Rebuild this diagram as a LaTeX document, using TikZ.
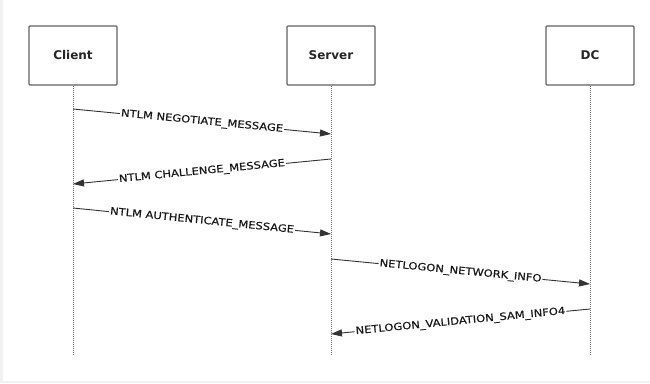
\documentclass[tikz,border=0pt]{standalone}
\usepackage{fontspec}
\setmainfont{DejaVu Sans}
\newfontfamily\msgfont[FakeStretch=1.15, FakeBold=0.4]{DejaVu Sans}
\usepackage{tikz}
\usetikzlibrary{arrows.meta, calc}

\begin{document}
\begin{tikzpicture}[x=1pt, y=-1pt, >={Triangle[length=11pt, width=7pt]},
  actor/.style={draw=black!62, line width=1.1pt, rounded corners=1pt,
    minimum width=88pt, minimum height=59pt, text=black!85,
    font=\bfseries\fontsize{12}{14}\selectfont},
  life/.style={draw=black!55, line width=0.9pt, dash pattern=on 1pt off 1pt},
  msg/.style={draw=black!80, line width=0.9pt, ->},
  lbl/.style={fill=white, inner sep=1pt, sloped, text=black!90,
    font=\msgfont\fontsize{10}{12}\selectfont}]
  % background frame
  \fill[black!5] (0,0) rectangle (650,383);
  \fill[white] (3,0) rectangle (650,381);

  % actors
  \node[actor] (client) at (73,55.5) {Client};
  \node[actor] (server) at (331,55.5) {Server};
  \node[actor] (dc) at (590,55.5) {DC};

  % lifelines
  \coordinate (clientend) at (73,355);
  \coordinate (serverend) at (331,355);
  \coordinate (dcend) at (590,355);
  \draw[life] (client) -- (clientend);
  \draw[life] (server) -- (serverend);
  \draw[life] (dc) -- (dcend);

  % message ends
  \coordinate (C1) at (73,109);   \coordinate (S1) at (331,134);
  \coordinate (S2) at (331,159);  \coordinate (C2) at (73,184);
  \coordinate (C3) at (73,208);   \coordinate (S3) at (331,234);
  \coordinate (S4) at (331,259);  \coordinate (D4) at (590,284);
  \coordinate (D5) at (590,309);  \coordinate (S5) at (331,334);

  % messages
  \draw[msg] (C1) -- node[lbl] {NTLM NEGOTIATE\_MESSAGE} (S1);
  \draw[msg] (S2) -- node[lbl] {NTLM CHALLENGE\_MESSAGE} (C2);
  \draw[msg] (C3) -- node[lbl] {NTLM AUTHENTICATE\_MESSAGE} (S3);
  \draw[msg] (S4) -- node[lbl] {NETLOGON\_NETWORK\_INFO} (D4);
  \draw[msg] (D5) -- node[lbl] {NETLOGON\_VALIDATION\_SAM\_INFO4} (S5);
\end{tikzpicture}
\end{document}
